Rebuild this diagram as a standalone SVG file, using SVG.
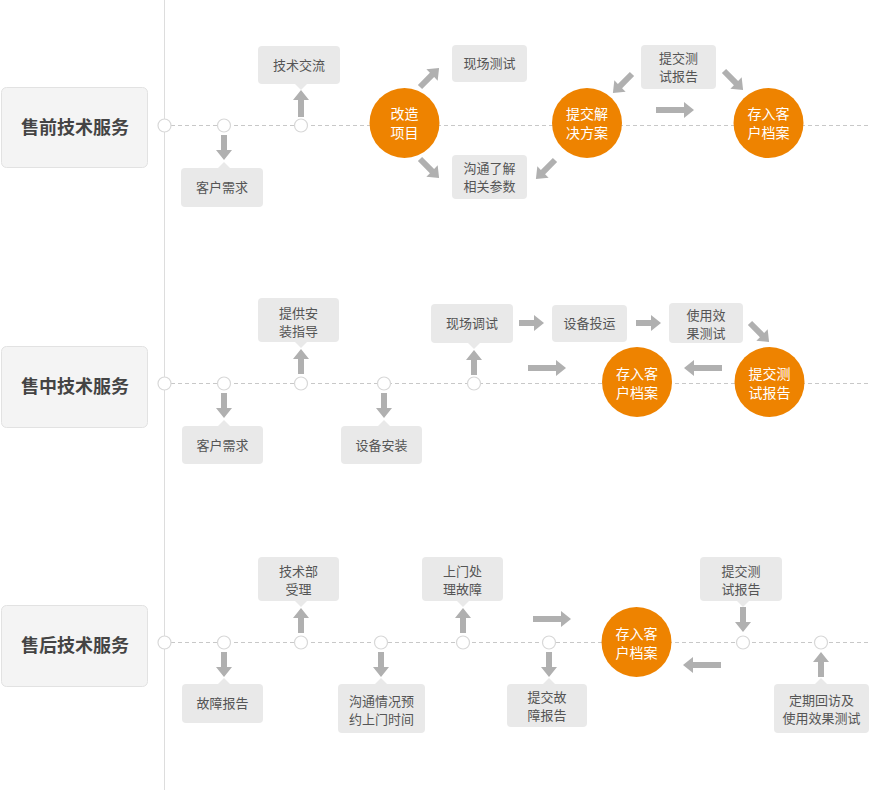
<svg xmlns="http://www.w3.org/2000/svg" xmlns:xlink="http://www.w3.org/1999/xlink" width="871" height="790" viewBox="0 0 871 790">
<style>
.bg{fill:#ffffff}
.vline{stroke:#dddddd;stroke-width:1}
.tl{stroke:#c8c8c8;stroke-width:1;stroke-dasharray:4 3;fill:none}
.lbl{fill:#f4f4f4;stroke:#e2e2e2;stroke-width:1}
.lt{font-family:"Noto Sans CJK SC","Noto Sans",sans-serif;font-size:18px;font-weight:bold;fill:#444444;text-anchor:middle}
.dot{fill:#ffffff;stroke:#d8d8d8;stroke-width:1.2}
.box{fill:#e9e9e9}
.bt{font-family:"Noto Sans CJK SC","Noto Sans",sans-serif;font-size:13px;fill:#555555;text-anchor:middle}
.oc{fill:#ee8300}
.ot{font-family:"Noto Sans CJK SC","Noto Sans",sans-serif;font-size:14px;fill:#ffffff;text-anchor:middle}
.ar{fill:#b0b0b0}
</style>
<defs>
<path id="a25" class="ar" d="M0,-3 H15 V-8 L25,0 L15,8 V3 H0 Z"/>
<path id="a27" class="ar" d="M0,-3 H17 V-8 L27,0 L17,8 V3 H0 Z"/>
<path id="a38" class="ar" d="M0,-3 H28 V-8 L38,0 L28,8 V3 H0 Z"/>
</defs>
<rect class="bg" x="0" y="0" width="871" height="790"/>
<line class="vline" x1="164.5" y1="0" x2="164.5" y2="790"/>
<g id="timelines">
<line class="tl" x1="171" y1="125.5" x2="871" y2="125.5"/>
<line class="tl" x1="171" y1="383.5" x2="871" y2="383.5"/>
<line class="tl" x1="171" y1="642.5" x2="871" y2="642.5"/>
</g>

<g id="connectors">
<!-- row 1 -->
<use href="#a25" transform="translate(224,135) rotate(90)"/>
<use href="#a27" transform="translate(301,117) rotate(-90)"/>
<use href="#a27" transform="translate(420,87) rotate(-45)"/>
<use href="#a27" transform="translate(420,159) rotate(45)"/>
<use href="#a27" transform="translate(632,74) rotate(135)"/>
<use href="#a27" transform="translate(555,160) rotate(135)"/>
<use href="#a27" transform="translate(724,71) rotate(45)"/>
<use href="#a38" transform="translate(656,110)"/>
<!-- row 2 -->
<use href="#a25" transform="translate(224,393) rotate(90)"/>
<use href="#a25" transform="translate(384,393) rotate(90)"/>
<use href="#a25" transform="translate(301,374) rotate(-90)"/>
<use href="#a25" transform="translate(474,375) rotate(-90)"/>
<use href="#a25" transform="translate(519,323)"/>
<use href="#a25" transform="translate(636,323)"/>
<use href="#a27" transform="translate(750,323) rotate(45)"/>
<use href="#a38" transform="translate(722,368) rotate(180)"/>
<use href="#a38" transform="translate(528,368)"/>
<!-- row 3 -->
<use href="#a25" transform="translate(224,652) rotate(90)"/>
<use href="#a25" transform="translate(381,652) rotate(90)"/>
<use href="#a25" transform="translate(549,652) rotate(90)"/>
<use href="#a25" transform="translate(301,633) rotate(-90)"/>
<use href="#a25" transform="translate(463,633) rotate(-90)"/>
<use href="#a25" transform="translate(743,607) rotate(90)"/>
<use href="#a25" transform="translate(821,677) rotate(-90)"/>
<use href="#a38" transform="translate(533,619)"/>
<use href="#a38" transform="translate(721,665) rotate(180)"/>
</g>

<!-- Row 1 -->
<g id="label-pre">
<rect class="lbl" x="1.5" y="87.5" width="146" height="80" rx="5"/>
<text class="lt" x="75" y="134">售前技术服务</text>
</g>
<g id="r1-dots">
<circle class="dot" cx="164.5" cy="125.5" r="6.5"/>
<circle class="dot" cx="224" cy="125.5" r="6.5"/>
<circle class="dot" cx="301" cy="125.5" r="6.5"/>
</g>
<g id="r1-khxq">
<rect class="box" x="181" y="168" width="82" height="39" rx="4"/>
<path class="box" d="M218,168 L224,162 L230,168 Z"/>
<text class="bt" x="222" y="192">客户需求</text>
</g>
<g id="r1-jsjl">
<rect class="box" x="258" y="46" width="82" height="38" rx="4"/>
<path class="box" d="M295,84 L301,90 L307,84 Z"/>
<text class="bt" x="299" y="70">技术交流</text>
</g>
<g id="r1-gzxm">
<circle class="oc" cx="404.5" cy="123" r="35"/>
<text class="ot" x="404.5" y="119">改造</text>
<text class="ot" x="404.5" y="138">项目</text>
</g>
<g id="r1-xccs">
<rect class="box" x="452" y="45" width="75" height="37" rx="4"/>
<text class="bt" x="489.5" y="68">现场测试</text>
</g>
<g id="r1-gtlj">
<rect class="box" x="452" y="155" width="75" height="44" rx="4"/>
<text class="bt" x="489.5" y="173">沟通了解</text>
<text class="bt" x="489.5" y="191">相关参数</text>
</g>
<g id="r1-tjjj">
<circle class="oc" cx="587" cy="123" r="35"/>
<text class="ot" x="587" y="119">提交解</text>
<text class="ot" x="587" y="138">决方案</text>
</g>
<g id="r1-tjcs">
<rect class="box" x="641" y="45" width="75" height="44" rx="4"/>
<text class="bt" x="678.5" y="63">提交测</text>
<text class="bt" x="678.5" y="81">试报告</text>
</g>
<g id="r1-crda">
<circle class="oc" cx="768.5" cy="123" r="35"/>
<text class="ot" x="768.5" y="119">存入客</text>
<text class="ot" x="768.5" y="138">户档案</text>
</g>

<!-- Row 2 -->
<g id="label-mid">
<rect class="lbl" x="1.5" y="346.5" width="146" height="81" rx="5"/>
<text class="lt" x="75" y="393">售中技术服务</text>
</g>
<g id="r2-dots">
<circle class="dot" cx="164.5" cy="383.5" r="6.5"/>
<circle class="dot" cx="224" cy="383.5" r="6.5"/>
<circle class="dot" cx="301" cy="383.5" r="6.5"/>
<circle class="dot" cx="384" cy="383.5" r="6.5"/>
<circle class="dot" cx="474" cy="383.5" r="6.5"/>
</g>
<g id="r2-khxq">
<rect class="box" x="182" y="426" width="81" height="38" rx="4"/>
<path class="box" d="M218,426 L224,420 L230,426 Z"/>
<text class="bt" x="222.5" y="450">客户需求</text>
</g>
<g id="r2-sbaz">
<rect class="box" x="341" y="426" width="81" height="38" rx="4"/>
<path class="box" d="M378,426 L384,420 L390,426 Z"/>
<text class="bt" x="381.5" y="450">设备安装</text>
</g>
<g id="r2-tgaz">
<rect class="box" x="258" y="298" width="81" height="44" rx="4"/>
<path class="box" d="M295,342 L301,348 L307,342 Z"/>
<text class="bt" x="298.5" y="318">提供安</text>
<text class="bt" x="298.5" y="336">装指导</text>
</g>
<g id="r2-xcts">
<rect class="box" x="431" y="304" width="82" height="39" rx="4"/>
<path class="box" d="M468,343 L474,349 L480,343 Z"/>
<text class="bt" x="472" y="328">现场调试</text>
</g>
<g id="r2-sbty">
<rect class="box" x="552" y="305" width="75" height="37" rx="4"/>
<text class="bt" x="589.5" y="328">设备投运</text>
</g>
<g id="r2-syxg">
<rect class="box" x="669" y="303" width="74" height="40" rx="4"/>
<text class="bt" x="706" y="320">使用效</text>
<text class="bt" x="706" y="338">果测试</text>
</g>
<g id="r2-crda">
<circle class="oc" cx="637" cy="382" r="35"/>
<text class="ot" x="637" y="379">存入客</text>
<text class="ot" x="637" y="398">户档案</text>
</g>
<g id="r2-tjcs">
<circle class="oc" cx="769.5" cy="382" r="35"/>
<text class="ot" x="769.5" y="379">提交测</text>
<text class="ot" x="769.5" y="398">试报告</text>
</g>

<!-- Row 3 -->
<g id="label-post">
<rect class="lbl" x="1.5" y="605.5" width="146" height="81" rx="5"/>
<text class="lt" x="75" y="652">售后技术服务</text>
</g>
<g id="r3-dots">
<circle class="dot" cx="164.5" cy="642.5" r="6.5"/>
<circle class="dot" cx="224" cy="642.5" r="6.5"/>
<circle class="dot" cx="301" cy="642.5" r="6.5"/>
<circle class="dot" cx="381" cy="642.5" r="6.5"/>
<circle class="dot" cx="463" cy="642.5" r="6.5"/>
<circle class="dot" cx="549" cy="642.5" r="6.5"/>
<circle class="dot" cx="743" cy="642.5" r="6.5"/>
<circle class="dot" cx="821" cy="642.5" r="6.5"/>
</g>
<g id="r3-gzbg">
<rect class="box" x="182" y="684" width="81" height="39" rx="4"/>
<path class="box" d="M218,684 L224,678 L230,684 Z"/>
<text class="bt" x="222.5" y="708">故障报告</text>
</g>
<g id="r3-gtqk">
<rect class="box" x="338" y="684" width="87" height="49" rx="4"/>
<path class="box" d="M375,684 L381,678 L387,684 Z"/>
<text class="bt" x="381.5" y="706">沟通情况预</text>
<text class="bt" x="381.5" y="724">约上门时间</text>
</g>
<g id="r3-jsbsl">
<rect class="box" x="258" y="557" width="81" height="44" rx="4"/>
<path class="box" d="M295,601 L301,607 L307,601 Z"/>
<text class="bt" x="298.5" y="576">技术部</text>
<text class="bt" x="298.5" y="594">受理</text>
</g>
<g id="r3-smcl">
<rect class="box" x="422" y="557" width="81" height="44" rx="4"/>
<path class="box" d="M457,601 L463,607 L469,601 Z"/>
<text class="bt" x="462.5" y="576">上门处</text>
<text class="bt" x="462.5" y="594">理故障</text>
</g>
<g id="r3-tjgz">
<rect class="box" x="507" y="684" width="80" height="43" rx="4"/>
<path class="box" d="M543,684 L549,678 L555,684 Z"/>
<text class="bt" x="547" y="702">提交故</text>
<text class="bt" x="547" y="720">障报告</text>
</g>
<g id="r3-crda">
<circle class="oc" cx="636.5" cy="642" r="35"/>
<text class="ot" x="636.5" y="639">存入客</text>
<text class="ot" x="636.5" y="658">户档案</text>
</g>
<g id="r3-tjcs">
<rect class="box" x="700" y="557" width="82" height="44" rx="4"/>
<path class="box" d="M737,601 L743,607 L749,601 Z"/>
<text class="bt" x="741" y="576">提交测</text>
<text class="bt" x="741" y="594">试报告</text>
</g>
<g id="r3-dqhf">
<rect class="box" x="774" y="684" width="95" height="49" rx="4"/>
<path class="box" d="M815,684 L821,678 L827,684 Z"/>
<text class="bt" x="821.5" y="705">定期回访及</text>
<text class="bt" x="821.5" y="723">使用效果测试</text>
</g>
</svg>
